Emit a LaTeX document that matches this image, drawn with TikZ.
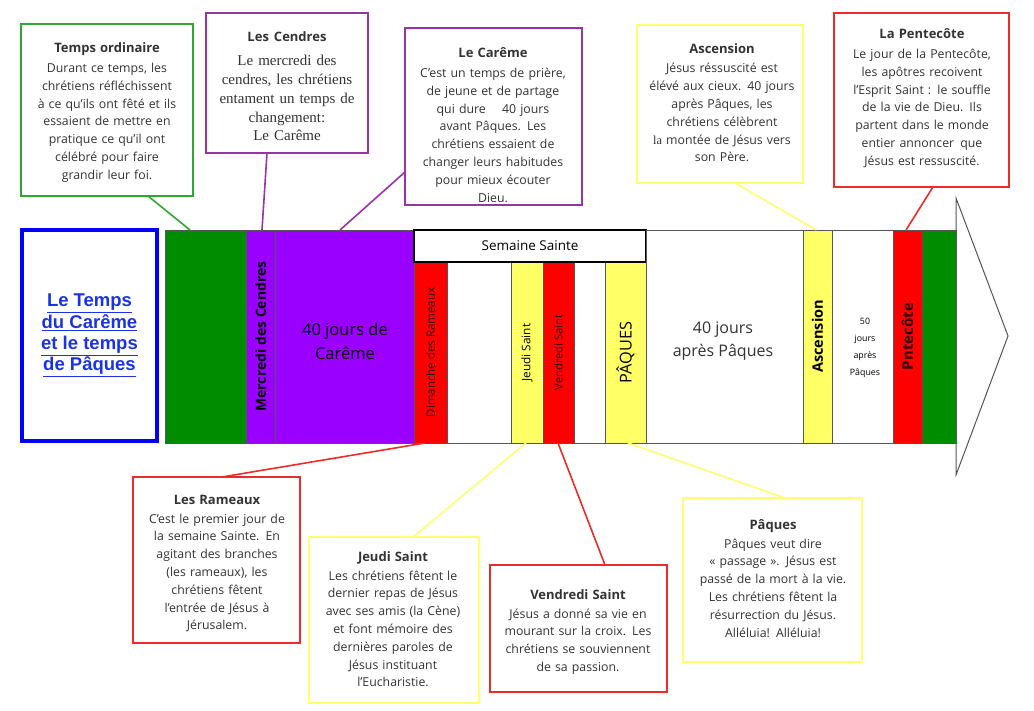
\documentclass[tikz,border=0pt]{standalone}
\usepackage{fontspec}
\setmainfont{Open Sans}
\newfontfamily\serifb{Liberation Serif}
\newfontfamily\arialb{Liberation Sans}
\usetikzlibrary{calc}
\definecolor{fgreen}{HTML}{008C00}
\definecolor{fpurple}{HTML}{9A00FF}
\definecolor{fred}{HTML}{FF0000}
\definecolor{fyellow}{HTML}{FFFF66}
\definecolor{bandline}{HTML}{555555}
\definecolor{lgreen}{HTML}{2EA82E}
\definecolor{lpurple}{HTML}{9933A8}
\definecolor{lred}{HTML}{EE2B2B}
\definecolor{lyellow}{HTML}{FFFF70}
\definecolor{textgray}{HTML}{333333}
\definecolor{darktext}{HTML}{2A0000}
\definecolor{tblue}{HTML}{1A33E6}
\newcommand\boxtitle[1]{{\bfseries\fontsize{13}{15}\selectfont #1}}
\begin{document}
\begin{tikzpicture}[x=1pt,y=-1pt,
  seg/.style={draw=bandline, line width=0.8pt, inner sep=0pt, outer sep=0pt, align=center, text=black},
  box/.style={draw=#1, line width=2pt, inner sep=0pt, outer sep=0pt},
  link/.style={draw=#1, line width=1.6pt},
  btxt/.style={anchor=base, align=center, text width=240pt, inner sep=0pt, text=textgray, font=\fontsize{12.3}{17.8}\selectfont},
  bandtxt/.style={align=center, inner sep=0pt, text=black}]
\fill[white] (0,0) rectangle (1034,711);
\useasboundingbox (0,0) rectangle (1034,711);

% arrow head
\draw[draw=bandline, line width=1pt, fill=white, line join=miter] (956,198) -- (1008,336) -- (956,475) -- cycle;

% title box
\node[draw=blue, line width=3.5pt, minimum width=135pt, minimum height=211pt, inner sep=0pt, align=center,
      text=tblue, font=\arialb\bfseries\fontsize{18.5}{21.3}\selectfont] (tb) at (89.5,335.5)
      {\underline{Le Temps}\\\underline{du Carême}\\\underline{et le temps}\\\underline{de Pâques}};

% band
\node[seg, fill=fgreen, minimum width=81pt, minimum height=213pt] (g1) at (205.5,336.5) {};
\node[seg, fill=fpurple, rotate=90, minimum width=213pt, minimum height=29pt, font=\bfseries\fontsize{14}{16}\selectfont] (mer) at (260.5,336.5) {Mercredi des Cendres};
\node[seg, fill=fpurple, minimum width=139pt, minimum height=213pt] (car) at (344.5,336.5) {};
\node[bandtxt, font=\fontsize{16.5}{24}\selectfont] (cart) at (345,341) {40 jours de\\Carême};
\node[seg, fill=fred, rotate=90, minimum width=181pt, minimum height=33pt, text=darktext, font=\fontsize{11.5}{13}\selectfont] (dim) at (430.5,352.5) {Dimanche des Rameaux};
\node[seg, fill=white, minimum width=64pt, minimum height=181pt] (w1) at (479,352.5) {};
\node[seg, fill=fyellow, rotate=90, minimum width=181pt, minimum height=32pt, font=\fontsize{11.8}{13}\selectfont] (jeu) at (527,352.5) {Jeudi Saint};
\node[seg, fill=fred, rotate=90, minimum width=181pt, minimum height=31pt, text=darktext, font=\fontsize{11.2}{13}\selectfont] (ven) at (558.5,352.5) {Vendredi Saint};
\node[seg, fill=white, minimum width=31pt, minimum height=181pt] (w2) at (589.5,352.5) {};
\node[seg, fill=fyellow, rotate=90, minimum width=181pt, minimum height=41pt, font=\fontsize{16.3}{18}\selectfont] (paq) at (625.5,352.5) {PÂQUES};
\node[seg, draw=black, line width=1.6pt, fill=white, minimum width=232pt, minimum height=32pt, font=\fontsize{13.5}{15}\selectfont] (hdr) at (530,246) {Semaine Sainte};
\node[seg, fill=white, minimum width=157pt, minimum height=213pt] (apr) at (724.5,336.5) {};
\node[bandtxt, text=textgray, font=\fontsize{16}{23}\selectfont] (aprt) at (723,341.5) {40 jours\\après Pâques};
\node[seg, fill=fyellow, rotate=90, minimum width=213pt, minimum height=29pt, font=\bfseries\fontsize{14.5}{16}\selectfont] (asc) at (817.5,336.5) {Ascension};
\node[seg, fill=white, minimum width=61pt, minimum height=213pt] (cinq) at (862.5,336.5) {};
\node[bandtxt, font=\fontsize{8.8}{17}\selectfont] (cinqt) at (865,347.5) {50\\jours\\après\\Pâques};
\node[seg, fill=fred, rotate=90, minimum width=213pt, minimum height=29pt, text=darktext, font=\bfseries\fontsize{15}{17}\selectfont] (pen) at (907.5,336.5) {Pntecôte};
\node[seg, fill=fgreen, minimum width=34pt, minimum height=213pt] (g2) at (939,336.5) {};

% top boxes
\node[box=lgreen, minimum width=172pt, minimum height=172pt] (to) at (107,110) {};
\node[btxt] (tot) at (107,53) {\boxtitle{Temps ordinaire}\\[1.7pt]Durant ce temps, les\\chrétiens réfléchissent\\à ce qu’ils ont fêté et ils\\essaient de mettre en\\pratique ce qu’il ont\\célébré pour faire\\grandir leur foi.};

\node[box=lpurple, minimum width=162pt, minimum height=140pt] (ce) at (287,83) {};
\node[btxt, font=\serifb\fontsize{15}{18.8}\selectfont] (cet) at (287,42) {{\normalfont\boxtitle{Les Cendres}}\\[5pt]Le mercredi des\\cendres, les chrétiens\\entament un temps de\\changement:\\Le Carême};

\node[box=lpurple, minimum width=177pt, minimum height=177pt] (cb) at (493.5,116.5) {};
\node[btxt] (cbt) at (493,58) {\boxtitle{Le Carême}\\[1.7pt]C’est un temps de prière,\\de jeune et de partage\\qui dure \quad 40 jours\\avant Pâques. Les\\chrétiens essaient de\\changer leurs habitudes\\pour mieux écouter\\Dieu.};

\node[box=lyellow, minimum width=166pt, minimum height=158pt] (as) at (720,104) {};
\node[btxt] (ast) at (722,54) {\boxtitle{Ascension}\\[1.2pt]Jésus réssuscité est\\élévé aux cieux. 40 jours\\après Pâques, les\\chrétiens célèbrent\\{\serifb la} montée de Jésus vers\\son Père.};

\node[box=lred, minimum width=175pt, minimum height=174pt] (pe) at (921.5,100) {};
\node[btxt] (pet) at (922,39) {\boxtitle{La Pentecôte}\\[1.7pt]Le jour de la Pentecôte,\\les apôtres recoivent\\l’Esprit Saint : le souffle\\de la vie de Dieu. Ils\\partent dans le monde\\entier annoncer\enspace que\\Jésus est ressuscité.};

% bottom boxes
\node[box=lred, minimum width=167pt, minimum height=166pt] (ra) at (216.5,560) {};
\node[btxt] (rat) at (217,504) {\boxtitle{Les Rameaux}\\[1.2pt]C’est le premier jour de\\la semaine Sainte. En\\agitant des branches\\(les rameaux), les\\chrétiens fêtent\\l’entrée de Jésus à\\Jérusalem.};

\node[box=lyellow, minimum width=170pt, minimum height=166pt] (je) at (394,620) {};
\node[btxt] (jet) at (393,561) {\boxtitle{Jeudi Saint}\\[1.2pt]Les chrétiens fêtent le\\dernier repas de Jésus\\avec ses amis (la Cène)\\et font mémoire des\\dernières paroles de\\Jésus instituant\\l’Eucharistie.};

\node[box=lred, minimum width=177pt, minimum height=127pt] (ve) at (578.5,628.5) {};
\node[btxt] (vet) at (578,599) {\boxtitle{Vendredi Saint}\\[1.2pt]Jésus a donné sa vie en\\mourant sur la croix. Les\\chrétiens se souviennent\\de sa passion.};

\node[box=lyellow, minimum width=179pt, minimum height=164pt] (pa) at (772.5,580) {};
\node[btxt] (pat) at (773,529) {\boxtitle{Pâques}\\[1.2pt]Pâques veut dire\\«~passage~». Jésus est\\passé de la mort à la vie.\\Les chrétiens fêtent la\\résurrection du Jésus.\\Alléluia! Alléluia!};

% connectors
\draw[link=lgreen] ([xshift=41pt]to.south) -- ([xshift=-15.5pt]g1.north);
\draw[link=lpurple] ([xshift=-20pt]ce.south) -- ([xshift=1.5pt]mer.east);
\draw[link=lpurple] ([yshift=-55.5pt]cb.west) -- ([xshift=-4.5pt]car.north);
\draw[link=lyellow] ([xshift=15pt]as.south) -- ([xshift=-1pt]asc.east);
\draw[link=lred] ([xshift=11.5pt]pe.south) -- ([xshift=-1.5pt]pen.east);
\draw[link=lred] ([xshift=5.5pt]ra.north) -- ([xshift=-5.5pt]dim.west);
\draw[link=lyellow] ([xshift=19pt]je.north) -- ([xshift=-1pt]jeu.west);
\draw[link=lred] ([xshift=26.5pt]ve.north) -- ([xshift=-0.5pt]ven.west);
\draw[link=lyellow] ([xshift=12.5pt]pa.north) -- ([xshift=2.5pt]paq.west);
\end{tikzpicture}
\end{document}
